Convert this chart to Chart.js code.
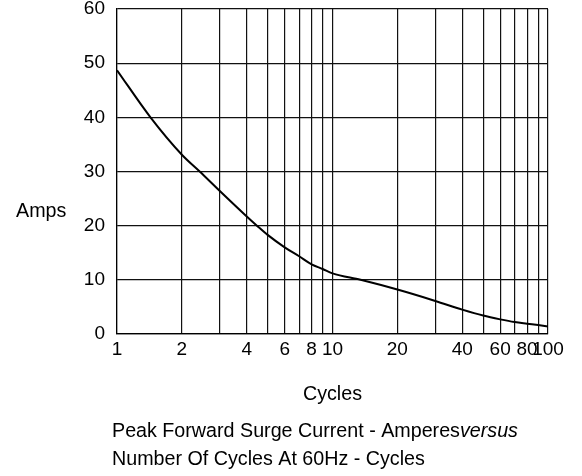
<!DOCTYPE html>
<html>
<head>
<meta charset="utf-8">
<script src="https://cdn.jsdelivr.net/npm/chart.js@4.4.1/dist/chart.umd.min.js"></script>
<style>
    html, body { margin: 0; padding: 0; background: #fff; }
    #wrap { width: 582px; height: 476px; position: relative; }
</style>
</head>
<body>
<div id="wrap"><canvas id="surgeChart"></canvas></div>
<script>
// curve: number of cycles vs peak surge amps
let cycles = [1, 1.43, 2, 2.42, 3, 4, 4.46, 5, 6, 7, 8, 9, 10, 13.5, 20, 30, 40, 50, 60, 70, 80, 90, 100];
let amps = [48.7, 40, 33.1, 30, 26.4, 21.7, 20, 18.3, 16.0, 14.35, 12.85, 12.0, 11.2, 10, 8.2, 6.1, 4.5, 3.4, 2.7, 2.2, 1.9, 1.65, 1.4];

// grid lines on the log axis, and the ones that get a label
let gridCycles = [1, 2, 3, 4, 5, 6, 7, 8, 9, 10, 20, 30, 40, 50, 60, 70, 80, 90, 100];
let labelCycles = [1, 2, 4, 6, 8, 10, 20, 40, 60, 80, 100];

let yTitle = "Amps";
let xTitle = "Cycles";
let captionLine1 = "Peak Forward Surge Current - Amperes";
let captionItalic = "versus";
let captionLine2 = "Number Of Cycles At 60Hz - Cycles";

let fontFamily = "'Liberation Sans', Arial, sans-serif";
let tickSize = 19;
let textSize = 19.7;

// extra texts: horizontal y title, x title and the caption under the chart
let textPlugin = {
    id: "extraText",
    afterDraw(chart) {
        let ctx = chart.ctx;
        let area = chart.chartArea;
        ctx.save();
        ctx.fillStyle = "#000";
        ctx.textBaseline = "alphabetic";

        ctx.font = textSize + "px " + fontFamily;
        ctx.textAlign = "left";
        ctx.fillText(yTitle, 16, 217);

        ctx.textAlign = "center";
        ctx.fillText(xTitle, (area.left + area.right) / 2, 400);

        ctx.textAlign = "left";
        ctx.fillText(captionLine1, 112, 437);
        let w = ctx.measureText(captionLine1).width;
        ctx.font = "italic " + textSize + "px " + fontFamily;
        ctx.fillText(captionItalic, 112 + w, 437);
        ctx.font = textSize + "px " + fontFamily;
        ctx.fillText(captionLine2, 112, 465);
        ctx.restore();
    },
};

let ctx = document.querySelector("#surgeChart").getContext("2d");
let myChart = new Chart(ctx, {
    type: "line",
    data: {
        datasets: [
            {
                label: "Peak surge current",
                data: cycles.map((c, i) => ({ x: c, y: amps[i] })),
                borderColor: "#000",
                borderWidth: 2,
                pointRadius: 0,
                fill: false,
                cubicInterpolationMode: "monotone",
            },
        ],
    },
    options: {
        responsive: true,
        maintainAspectRatio: false,
        animation: false,
        layout: {
            padding: { left: 0, top: 9, right: 34, bottom: 0 },
        },
        plugins: {
            legend: { display: false },
            tooltip: { enabled: false },
        },
        scales: {
            x: {
                type: "logarithmic",
                min: 1,
                max: 100,
                afterBuildTicks: (scale) => {
                    scale.ticks = gridCycles.map((v) => ({ value: v }));
                },
                afterFit: (scale) => {
                    scale.height = 142;
                },
                ticks: {
                    autoSkip: false,
                    maxRotation: 0,
                    padding: 4,
                    color: "#000",
                    font: { family: fontFamily, size: tickSize },
                    callback: (value) => (labelCycles.includes(value) ? String(value) : ""),
                },
                grid: { color: "#111", lineWidth: 1.2, drawTicks: false },
                border: { color: "#000", width: 1.2 },
            },
            y: {
                min: 0,
                max: 60,
                afterFit: (scale) => {
                    scale.width = 117;
                    scale.paddingTop = 0;
                    scale.paddingBottom = 0;
                },
                ticks: {
                    stepSize: 10,
                    padding: 12,
                    color: "#000",
                    font: { family: fontFamily, size: tickSize },
                },
                grid: { color: "#111", lineWidth: 1.2, drawTicks: false },
                border: { color: "#000", width: 1.2 },
            },
        },
    },
    plugins: [textPlugin],
});
</script>
</body>
</html>
